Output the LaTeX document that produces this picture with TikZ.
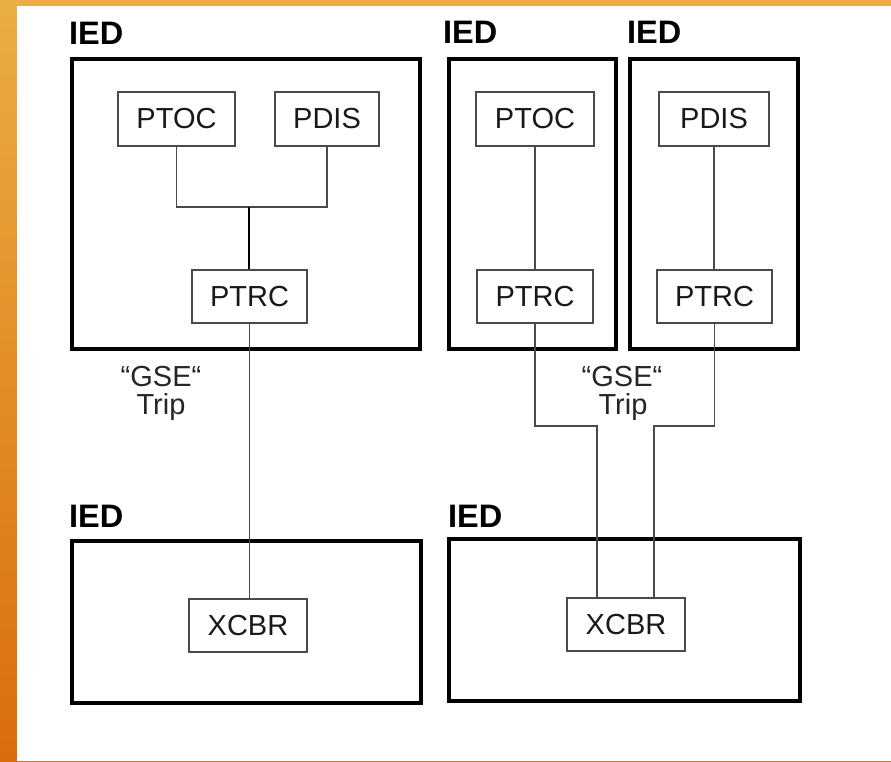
\documentclass[tikz,border=0pt]{standalone}
\usepackage{fontspec}
\setmainfont{Liberation Sans}
\usetikzlibrary{calc}
\definecolor{frametop}{HTML}{EAAE42}
\definecolor{framebot}{HTML}{D96C0E}
\definecolor{lnline}{HTML}{4A4A4A}
\begin{document}
\begin{tikzpicture}[x=1pt,y=-1pt,
  iedbox/.style={draw=black,line width=4pt},
  lnode/.style={draw=lnline,line width=1.2pt,inner sep=0pt,text=black!90,
    font=\fontsize{29}{34}\selectfont},
  iedlabel/.style={anchor=base west,inner sep=0pt,font=\fontsize{32.5}{38}\selectfont\bfseries},
  gselabel/.style={anchor=base,inner sep=0pt,text=black!85,font=\fontsize{29}{34}\selectfont},
  conn/.style={draw=lnline,line width=1.2pt},
  trunk/.style={draw=black,line width=1.8pt}]
% slide frame and white page
\shade[top color=frametop,bottom color=framebot] (0,0) rectangle (891,761);
\fill[white] (17,6) rectangle (891,761);
\useasboundingbox (0,0) rectangle (891,761);

% IED enclosures
\draw[iedbox] (72,59) rectangle (420,349);
\draw[iedbox] (449,59) rectangle (616,349);
\draw[iedbox] (630,59) rectangle (798,349);
\draw[iedbox] (72,541) rectangle (421,703);
\draw[iedbox] (449,539) rectangle (800,701);

\node[iedlabel] (iedA) at (69,44) {IED};
\node[iedlabel] (iedB) at (443,43) {IED};
\node[iedlabel] (iedC) at (627,43) {IED};
\node[iedlabel] (iedD) at (69,527) {IED};
\node[iedlabel] (iedE) at (448,527) {IED};

% logical nodes
\node[lnode,minimum width=117pt,minimum height=54pt] (ptocA) at (176.5,119) {PTOC};
\node[lnode,minimum width=104pt,minimum height=54pt] (pdisA) at (327,119) {PDIS};
\node[lnode,minimum width=115pt,minimum height=53pt] (ptrcA) at (249.5,296.5) {PTRC};
\node[lnode,minimum width=118pt,minimum height=54pt] (ptocB) at (535,119) {PTOC};
\node[lnode,minimum width=116pt,minimum height=53pt] (ptrcB) at (535,296.5) {PTRC};
\node[lnode,minimum width=110pt,minimum height=54pt] (pdisC) at (714,119) {PDIS};
\node[lnode,minimum width=115pt,minimum height=53pt] (ptrcC) at (714.5,296.5) {PTRC};
\node[lnode,minimum width=118pt,minimum height=53pt] (xcbrD) at (248,625.5) {XCBR};
\node[lnode,minimum width=118pt,minimum height=53pt] (xcbrE) at (626,624.5) {XCBR};

% GSE trip labels
\node[gselabel] (gseA) at (161,386) {“GSE“};
\node[gselabel] (tripA) at (161,414) {Trip};
\node[gselabel] (gseB) at (622,386) {“GSE“};
\node[gselabel] (tripB) at (623,414) {Trip};

% connections, left station
\coordinate (joinA) at (249,207);
\draw[conn] (ptocA.south) |- (joinA) -| (pdisA.south);
\draw[trunk] (joinA) -- (joinA |- ptrcA.north);
\draw[conn] (ptrcA.south) -- (ptrcA.south |- xcbrD.north);

% connections, right station
\coordinate (bendB) at (597,426);
\coordinate (bendC) at (654,426);
\draw[conn] (ptocB.south) -- (ptrcB.north);
\draw[conn] (pdisC.south) -- (pdisC.south |- ptrcC.north);
\draw[conn] (ptrcB.south) |- (bendB) -- (bendB |- xcbrE.north);
\draw[conn] (ptrcC.south) |- (bendC) -- (bendC |- xcbrE.north);
\end{tikzpicture}
\end{document}
